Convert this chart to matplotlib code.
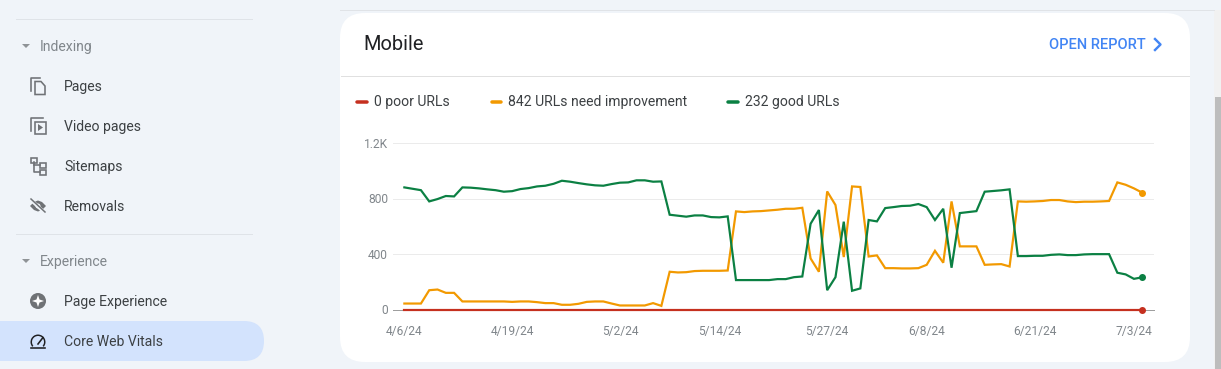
import numpy as np
import pandas as pd
from matplotlib import pyplot as plt
from matplotlib.patches import Circle, FancyBboxPatch, Polygon, Rectangle, Wedge

W, H = 1221, 369

good = [880, 870, 860, 779, 796, 818, 815, 880, 878, 873, 866, 860, 849, 853, 868,
        875, 887, 892, 906, 928, 921, 911, 902, 895, 892, 904, 914, 916, 931, 931,
        921, 923, 683, 676, 669, 678, 678, 666, 664, 671, 212, 212, 212, 212, 212,
        219, 219, 233, 238, 618, 717, 139, 233, 633, 135, 152, 645, 635, 731, 738,
        746, 748, 760, 738, 645, 726, 301, 695, 702, 709, 849, 854, 859, 866, 385,
        385, 387, 387, 394, 397, 392, 392, 397, 399, 399, 399, 265, 253, 221, 232]
need_improvement = [43, 43, 43, 139, 144, 120, 120, 58, 58, 58, 58, 58, 58, 55, 58,
                    58, 53, 46, 46, 34, 34, 41, 55, 58, 58, 43, 29, 29, 29, 29,
                    46, 26, 272, 267, 269, 277, 279, 279, 279, 281, 707, 702, 707, 709, 714,
                    719, 726, 726, 733, 368, 272, 851, 753, 378, 887, 883, 382, 390, 298, 298,
                    296, 296, 298, 322, 423, 337, 779, 455, 455, 455, 322, 325, 327, 310, 779,
                    777, 779, 782, 789, 789, 779, 774, 777, 777, 779, 782, 916, 899, 873, 842]
poor = [0] * 90
dates = pd.date_range('2024-04-06', periods=90)

x_ticks = ['2024-04-06', '2024-04-19', '2024-05-02', '2024-05-14',
           '2024-05-27', '2024-06-08', '2024-06-21', '2024-07-03']
x_labels = ['4/6/24', '4/19/24', '5/2/24', '5/14/24', '5/27/24', '6/8/24', '6/21/24', '7/3/24']
y_ticks = [0, 400, 800, 1200]
y_labels = ['0', '400', '800', '1.2K']

legend_labels = ['0 poor URLs', '842 URLs need improvement', '232 good URLs']
nav_indexing = ['Pages', 'Video pages', 'Sitemaps', 'Removals']
nav_experience = ['Page Experience', 'Core Web Vitals']

RED = '#c5301f'
ORANGE = '#f29900'
GREEN = '#0b8043'
PAGE = '#f0f4f9'
GREY = '#80868b'
ICON = '#6f7276'
TEXT = '#3c4043'

plt.rcParams['font.family'] = ['Roboto', 'DejaVu Sans']


def px(n):
    return n * 72 / 100


fig = plt.figure(figsize=(W / 100, H / 100), dpi=100, facecolor=PAGE)

# page chrome, drawn in pixel coordinates
bg = fig.add_axes([0, 0, 1, 1])
bg.set_xlim(0, W)
bg.set_ylim(H, 0)
bg.axis('off')

bg.plot([340, 1214], [9.5, 9.5], color='#e0e3e7', lw=px(1))
bg.add_patch(Rectangle((1214, 10), 7, H, color='#f1f1f1', lw=0))
bg.add_patch(Rectangle((1215, 97), 6, H, color='#bdbdbd', lw=0))
bg.add_patch(FancyBboxPatch((365, 38), 800, 299, boxstyle='round,pad=25,rounding_size=25',
                            fc='white', ec='none'))
bg.plot([341, 1189], [75.5, 75.5], color='#e0e0e0', lw=px(1))

bg.text(363.5, 44, 'Mobile', fontsize=px(20), color='#202124', va='center')
bg.text(1049, 45, 'OPEN REPORT', fontsize=px(14.6), color='#4285f4', va='center',
        fontweight='medium')
bg.plot([1155, 1160.5, 1155], [39, 44.5, 50], color='#4285f4', lw=px(2.4))

for x0, x1, tx, color, label in zip([357, 492, 728], [367, 501, 738], [374, 508, 745],
                                    [RED, ORANGE, GREEN], legend_labels):
    bg.plot([x0, x1], [101.5, 101.5], color=color, lw=px(3.5), solid_capstyle='round')
    bg.text(tx, 102, label, fontsize=px(14), color=TEXT, va='center')

# sidebar
for y in [18.5, 233.5]:
    bg.plot([16, 252], [y, y], color='#dfe3e8', lw=px(1))
bg.add_patch(FancyBboxPatch((-30, 321), 294, 40, boxstyle='round,pad=0,rounding_size=20',
                            fc='#d3e3fd', ec='none'))
for y, label in zip([46, 261], ['Indexing', 'Experience']):
    bg.add_patch(Polygon([[22, y - 2], [30, y - 2], [26, y + 2]], color='#8f9397', lw=0))
    bg.text(40, y + 1, label, fontsize=px(14), color=GREY, va='center')
for y, label in zip([87, 127, 167, 207], nav_indexing):
    bg.text(64, y, label, fontsize=px(14), color=TEXT, va='center')
for y, label in zip([302, 342], nav_experience):
    bg.text(64, y, label, fontsize=px(14), color=TEXT, va='center')

# nav icons
lw = px(1.6)
bg.plot([31, 31, 40], [91, 78, 78], color=ICON, lw=lw)
bg.add_patch(Polygon([[35, 81.5], [41, 81.5], [45, 86], [45, 94.5], [35, 94.5]],
                     fc='none', ec=ICON, lw=lw))
bg.plot([31, 31, 43], [131, 118, 118], color=ICON, lw=lw)
bg.add_patch(Rectangle((34.5, 121.5), 11.5, 12, fc='none', ec=ICON, lw=lw))
bg.add_patch(Polygon([[38, 124], [38, 131], [43, 127.5]], color=ICON, lw=0))
for x, y, w in [(31, 158, 6), (40, 163, 6), (40, 170, 6)]:
    bg.add_patch(Rectangle((x, y), w, 4.5, fc='none', ec=ICON, lw=lw))
bg.plot([34, 34, 40], [162, 172, 172], color=ICON, lw=lw)
bg.plot([34, 40], [165, 165], color=ICON, lw=lw)
bg.add_patch(Polygon([[30, 206], [34, 202], [38, 200.5], [42, 202], [46, 206],
                      [42, 210], [38, 211.5], [34, 210]], color=ICON, lw=0))
bg.add_patch(Circle((38, 206), 2.5, color=PAGE, lw=0))
bg.plot([31, 45], [200, 213], color=PAGE, lw=px(3.5))
bg.plot([31, 45], [199, 212], color=ICON, lw=px(1.5))
bg.add_patch(Circle((38, 301), 8, color=ICON, lw=0))
bg.add_patch(Polygon([[38, 295], [39.5, 299.5], [44, 301], [39.5, 302.5], [38, 307],
                      [36.5, 302.5], [32, 301], [36.5, 299.5]], color='white', lw=0))
bg.add_patch(Wedge((38, 342), 7.5, 140, 40, width=1.5, color='#202124', lw=0))
bg.plot([31, 45], [348, 348], color='#202124', lw=lw)
bg.plot([38, 43], [344, 337.5], color='#202124', lw=lw)

# the chart itself
ax = fig.add_axes([393 / W, 1 - 309.5 / H, (1154 - 393) / W, 166.5 / H], facecolor='none')
ax.set_xlim(pd.Timestamp('2024-04-06') - pd.Timedelta(days=1.37),
            pd.Timestamp('2024-07-04') + pd.Timedelta(days=1.42))
ax.set_ylim(0, 1200)
for s in ax.spines.values():
    s.set_visible(False)
ax.set_yticks(y_ticks, y_labels)
ax.set_xticks(pd.to_datetime(x_ticks), x_labels)
ax.tick_params(axis='both', length=0, labelsize=px(12), labelcolor=GREY)
ax.tick_params(axis='x', pad=px(16))
ax.tick_params(axis='y', pad=px(5))
ax.grid(axis='y', color='#ebebeb', lw=px(1))
ax.axhline(0, color='#9e9e9e', lw=px(1), clip_on=False)
ax.set_axisbelow(True)

for values, color in [(need_improvement, ORANGE), (good, GREEN), (poor, RED)]:
    ax.plot(dates, values, color=color, lw=px(2.2), clip_on=False, solid_joinstyle='miter')
    ax.plot(dates[-1:], values[-1:], 'o', color=color, ms=px(7), mew=0, clip_on=False)

fig.savefig('out.png', dpi=100, facecolor=fig.get_facecolor())
